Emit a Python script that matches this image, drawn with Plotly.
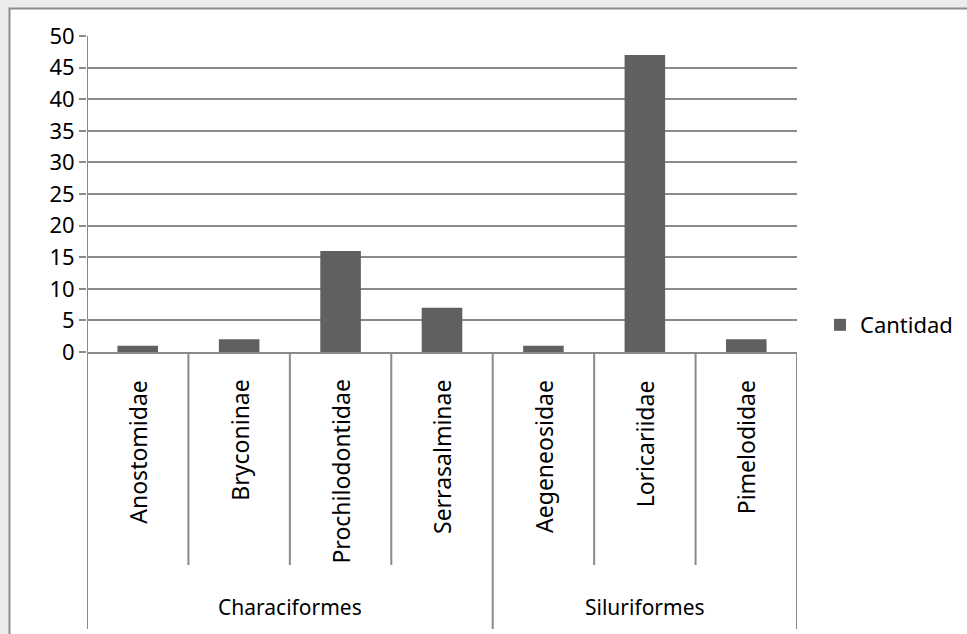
import plotly.graph_objects as go

# data
families = ["Anostomidae", "Bryconinae", "Prochilodontidae", "Serrasalminae",
            "Aegeneosidae", "Loricariidae", "Pimelodidae"]
orders = ["Characiformes", "Characiformes", "Characiformes", "Characiformes",
          "Siluriformes", "Siluriformes", "Siluriformes"]
cantidad = [1, 2, 16, 7, 1, 47, 2]
y_ticks = list(range(0, 55, 5))

FONT = "Noto Sans, Open Sans, sans-serif"
GRID = "#8a8a8a"
BAR = "#606060"

W, H = 967, 634
ML, MR, MT, MB = 87, 170, 36, 282
PW, PH = W - ML - MR, H - MT - MB


def px_to_paper_y(py):
    return (H - MB - py) / PH


def px_to_paper_x(px):
    return (px - ML) / PW


fig = go.Figure()
fig.add_trace(go.Bar(
    x=families,
    y=cantidad,
    name="Cantidad",
    marker=dict(color=BAR, line=dict(width=0)),
))

shapes = []
# white chart area with grey outline (left and top visible)
shapes.append(dict(
    type="rect", xref="paper", yref="paper", layer="below",
    x0=px_to_paper_x(9.5), x1=px_to_paper_x(990),
    y0=px_to_paper_y(660), y1=px_to_paper_y(8.5),
    fillcolor="white", line=dict(color="#8c8c8c", width=2),
))

# category separators under the axis
n = len(families)
for k in range(n + 1):
    pos = k - 0.5
    outer = k == 0 or k == n or orders[k - 1] != orders[k]
    shapes.append(dict(
        type="line", xref="x", yref="paper",
        x0=pos, x1=pos, y0=1 if k == 0 else 0,
        y1=px_to_paper_y(629 if outer else 565),
        line=dict(color=GRID, width=2),
    ))

annotations = []
for fam in families:
    annotations.append(dict(
        x=fam, xref="x", y=0, yref="paper", yshift=-26,
        text=fam, textangle=-90, showarrow=False,
        xanchor="center", yanchor="top",
        font=dict(family=FONT, size=23, color="#000000"),
    ))

# group labels centred under their families
groups = []
for i, o in enumerate(orders):
    if not groups or groups[-1][0] != o:
        groups.append([o, i, i])
    else:
        groups[-1][2] = i
for o, a, b in groups:
    annotations.append(dict(
        x=(a + b) / 2, xref="x", y=0, yref="paper", yshift=-255,
        text=o, showarrow=False, xanchor="center", yanchor="middle",
        font=dict(family=FONT, size=21, color="#000000"),
    ))

fig.update_layout(
    width=W, height=H,
    margin=dict(l=ML, r=MR, t=MT, b=MB, autoexpand=False),
    paper_bgcolor="#ecedeb",
    plot_bgcolor="rgba(0,0,0,0)",
    bargap=0.6,
    font=dict(family=FONT, size=21, color="#000000"),
    showlegend=True,
    legend=dict(
        x=px_to_paper_x(820), y=px_to_paper_y(325),
        xanchor="left", yanchor="middle",
        bgcolor="rgba(0,0,0,0)",
        font=dict(family=FONT, size=22, color="#000000"),
    ),
    xaxis=dict(
        range=[-0.5, n - 0.5],
        showticklabels=False, ticks="",
        showgrid=False, zeroline=False,
        showline=True, linecolor=GRID, linewidth=2,
    ),
    yaxis=dict(
        range=[0, 50], tickvals=y_ticks,
        ticks="outside", ticklen=7, tickcolor=GRID, tickwidth=2,
        showgrid=True, gridcolor=GRID, gridwidth=2,
        zeroline=False, showline=False,
        tickfont=dict(family=FONT, size=22, color="#000000"),
    ),
    shapes=shapes,
    annotations=annotations,
)

fig.write_html("out.html", config={"displayModeBar": False},
               post_script="document.body.style.margin='0';")
